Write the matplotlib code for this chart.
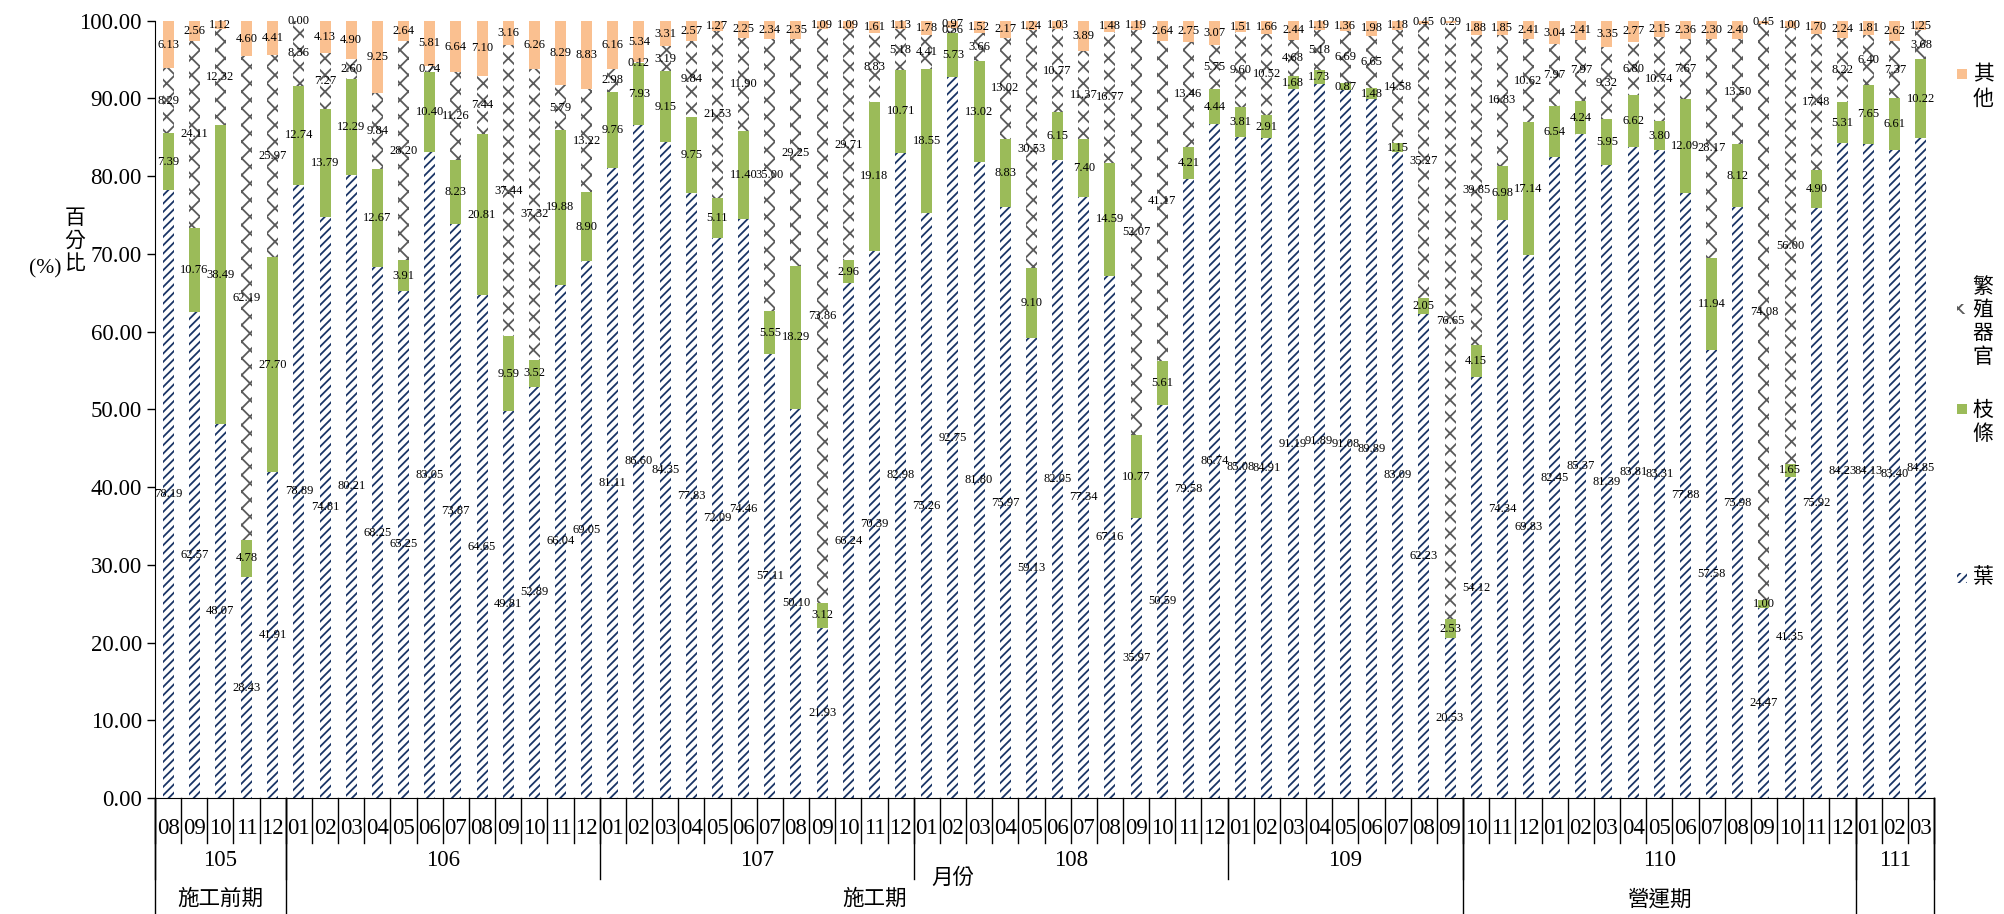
import numpy as np
import matplotlib.pyplot as plt
from matplotlib.patches import Rectangle
from matplotlib.transforms import blended_transform_factory

plt.rcParams['font.family'] = ['Liberation Serif', 'Noto Sans CJK TC']
plt.rcParams['hatch.linewidth'] = 1.3

months = ['08', '09', '10', '11', '12',
          '01', '02', '03', '04', '05', '06', '07', '08', '09', '10', '11', '12',
          '01', '02', '03', '04', '05', '06', '07', '08', '09', '10', '11', '12',
          '01', '02', '03', '04', '05', '06', '07', '08', '09', '10', '11', '12',
          '01', '02', '03', '04', '05', '06', '07', '08', '09', '10', '11', '12',
          '01', '02', '03', '04', '05', '06', '07', '08', '09', '10', '11', '12',
          '01', '02', '03']
years = ['105', '106', '107', '108', '109', '110', '111']
year_counts = [5, 12, 12, 12, 9, 15, 3]
phases = ['施工前期', '施工期', '營運期', '']
phase_counts = [5, 45, 15, 3]

# 葉
leaf = [78.19, 62.57, 48.07, 28.43, 41.91,
        78.89, 74.81, 80.21, 68.25, 65.25, 83.05, 73.87, 64.65, 49.81, 52.89, 66.04, 69.05,
        81.11, 86.60, 84.35, 77.83, 72.09, 74.46, 57.11, 50.10, 21.93, 66.24, 70.39, 82.98,
        75.26, 92.75, 81.80, 75.97, 59.13, 82.05, 77.34, 67.16, 35.97, 50.59, 79.58, 86.74,
        85.08, 84.91, 91.19, 91.89, 91.08, 89.89, 83.09, 62.23, 20.53, 54.12, 74.34, 69.83,
        82.45, 85.37, 81.39, 83.81, 83.31, 77.88, 57.58, 75.98, 24.47, 41.35, 75.92, 84.23,
        84.13, 83.40, 84.85]
# 枝條
branch = [7.39, 10.76, 38.49, 4.78, 27.70,
          12.74, 13.79, 12.29, 12.67, 3.91, 10.40, 8.23, 20.81, 9.59, 3.52, 19.88, 8.90,
          9.76, 7.93, 9.15, 9.75, 5.11, 11.40, 5.55, 18.29, 3.12, 2.96, 19.18, 10.71,
          18.55, 5.73, 13.02, 8.83, 9.10, 6.15, 7.40, 14.59, 10.77, 5.61, 4.21, 4.44,
          3.81, 2.91, 1.68, 1.73, 0.87, 1.48, 1.15, 2.05, 2.53, 4.15, 6.98, 17.14,
          6.54, 4.24, 5.95, 6.62, 3.80, 12.09, 11.94, 8.12, 1.00, 1.65, 4.90, 5.31,
          7.65, 6.61, 10.22]
# 繁殖器官
repro = [8.29, 24.11, 12.32, 62.19, 25.97,
         8.36, 7.27, 2.60, 9.84, 28.20, 0.74, 11.26, 7.44, 37.44, 37.32, 5.79, 13.22,
         2.98, 0.12, 3.19, 9.84, 21.53, 11.90, 35.00, 29.25, 73.86, 29.71, 8.83, 5.18,
         4.41, 0.56, 3.66, 13.02, 30.53, 10.77, 11.37, 16.77, 52.07, 41.17, 13.46, 5.75,
         9.60, 10.52, 4.68, 5.18, 6.69, 6.65, 14.58, 35.27, 76.65, 39.85, 16.83, 10.62,
         7.97, 7.97, 9.32, 6.80, 10.74, 7.67, 28.17, 13.50, 74.08, 56.00, 17.48, 8.22,
         6.40, 7.37, 3.68]
# 其他
other = [6.13, 2.56, 1.12, 4.60, 4.41,
         0.00, 4.13, 4.90, 9.25, 2.64, 5.81, 6.64, 7.10, 3.16, 6.26, 8.29, 8.83,
         6.16, 5.34, 3.31, 2.57, 1.27, 2.25, 2.34, 2.35, 1.09, 1.09, 1.61, 1.13,
         1.78, 0.97, 1.52, 2.17, 1.24, 1.03, 3.89, 1.48, 1.19, 2.64, 2.75, 3.07,
         1.51, 1.66, 2.44, 1.19, 1.36, 1.98, 1.18, 0.45, 0.29, 1.88, 1.85, 2.41,
         3.04, 2.41, 3.35, 2.77, 2.15, 2.36, 2.30, 2.40, 0.45, 1.00, 1.70, 2.24,
         1.81, 2.62, 1.25]

navy = '#1A3566'
green = '#9BBB59'
orange = '#FAC090'
gray = '#5A5A5A'

W, H = 2004, 914
fig = plt.figure(figsize=(W / 100, H / 100), dpi=100)
ax = fig.add_axes([155 / W, (H - 798) / H, (1934 - 155) / W, (798 - 20.7) / H])

x = np.arange(len(months))
bw = 0.42
series = [
    (leaf, dict(color='white', edgecolor=navy, hatch='////')),
    (branch, dict(color=green, edgecolor=green)),
    (repro, dict(color='white', edgecolor=gray, hatch='xx')),
    (other, dict(color=orange, edgecolor=orange)),
]
bottom = np.zeros(len(months))
for vals, style in series:
    vals = np.array(vals)
    ax.bar(x, vals, bw, bottom=bottom, linewidth=0, **style)
    for xi, b, v in zip(x, bottom, vals):
        ax.text(xi, b + v / 2, f'{v:.2f}', ha='center', va='center', fontsize=9)
    bottom = bottom + vals

ax.set_xlim(-0.5, len(months) - 0.5)
ax.set_ylim(0, 100)
ax.set_yticks(np.arange(0, 101, 10))
ax.set_yticklabels([f'{v:.2f}' for v in np.arange(0, 101, 10)], fontsize=16.5)
ax.tick_params(axis='y', direction='out', length=6, width=1)
ax.set_xticks([])
for s in ['top', 'right']:
    ax.spines[s].set_visible(False)

# multi-level category axis
tr = blended_transform_factory(ax.transData, ax.transAxes)
def yf(py):
    return (798 - py) / 777.0

for xi, m in zip(x, months):
    ax.text(xi, yf(828), m, transform=tr, ha='center', va='center', fontsize=16.5)
for b in np.arange(-0.5, len(months), 1.0):
    ax.plot([b, b], [0, yf(843)], transform=tr, color='black', lw=1, clip_on=False)

edges = np.concatenate([[0], np.cumsum(year_counts)]) - 0.5
for lab, a, b in zip(years, edges[:-1], edges[1:]):
    ax.text((a + b) / 2, yf(860), lab, transform=tr, ha='center', va='center', fontsize=16.5)
for e in edges:
    ax.plot([e, e], [0, yf(879)], transform=tr, color='black', lw=1, clip_on=False)

pedges = np.concatenate([[0], np.cumsum(phase_counts)]) - 0.5
for lab, a, b in zip(phases, pedges[:-1], pedges[1:]):
    ax.text((a + b) / 2, yf(900), lab, transform=tr, ha='center', va='center', fontsize=15.5)
for e in pedges:
    ax.plot([e, e], [0, yf(914)], transform=tr, color='black', lw=1, clip_on=False)

ax.text(0.5 * (len(months) - 1) - 3.5, yf(879), '月份', transform=tr, ha='center', va='center', fontsize=15.5)

# y label
fig.text(75 / W, 1 - 242 / H, '百\n分\n比', ha='center', va='center', fontsize=15, linespacing=1.25)
fig.text(45 / W, 1 - 269 / H, '(%)', ha='center', va='center', fontsize=15.5)

# legend
legend_items = [
    ('其\n他', 74, 88, dict(facecolor=orange, edgecolor=orange)),
    ('繁\n殖\n器\n官', 309, 323, dict(facecolor='white', edgecolor=gray, hatch='xx')),
    ('枝\n條', 409, 423, dict(facecolor=green, edgecolor=green)),
    ('葉', 578, 578, dict(facecolor='white', edgecolor=navy, hatch='////')),
]
for lab, my, ty, st in legend_items:
    fig.add_artist(Rectangle((1957 / W, 1 - (my + 5) / H), 10 / W, 10 / H,
                             transform=fig.transFigure, linewidth=0, **st))
    fig.text(1983 / W, 1 - ty / H, lab, ha='center', va='center', fontsize=15, linespacing=1.3)

fig.savefig('out.png', dpi=100)
